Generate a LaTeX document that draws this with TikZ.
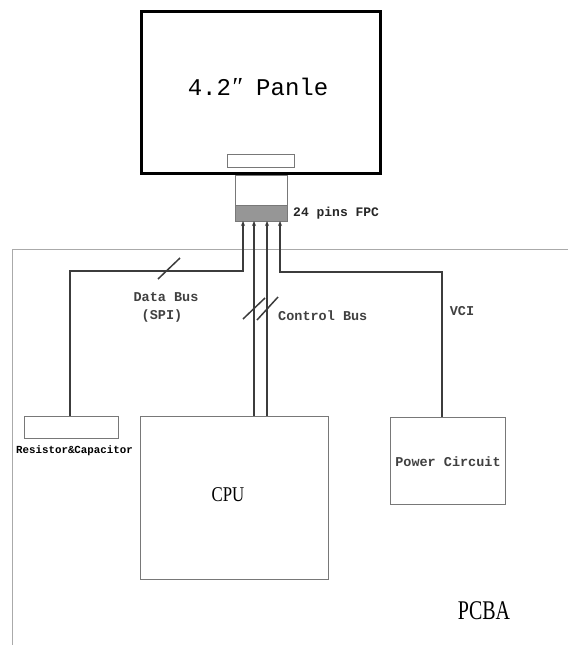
\documentclass[tikz,border=0pt]{standalone}
\usepackage{fontspec}
\setmainfont{Liberation Serif}
\newfontfamily\monofont{Liberation Mono}
\usetikzlibrary{arrows.meta}
\definecolor{wire}{RGB}{60,60,60}
\definecolor{boxline}{RGB}{120,120,120}
\definecolor{pcbline}{RGB}{170,170,170}
\definecolor{fpcgray}{RGB}{150,150,150}
\begin{document}
\begin{tikzpicture}[x=1pt,y=-1pt,
  boxstyle/.style={draw=boxline,line width=0.9pt,fill=white,inner sep=0pt},
  wirestyle/.style={draw=wire,line width=1.5pt},
  arrowwire/.style={wirestyle,-{Stealth[length=5pt,width=4pt]}},
  slashstyle/.style={draw=wire,line width=1.5pt},
  lbl/.style={font=\monofont\bfseries\fontsize{13.5}{14}\selectfont,inner sep=0pt,text=black!75},
]
\useasboundingbox (0,0) rectangle (568,645);
% PCBA outline
\coordinate (pcbtl) at (12,249);
\coordinate (pcbtr) at (568,249);
\coordinate (pcbbl) at (12,645);
\draw[pcbline,line width=1pt] (pcbtr) -- (pcbtl) -- (pcbbl);
% Panel
\node[draw=black,line width=3pt,minimum width=239pt,minimum height=162pt,inner sep=0pt] (panel) at (261,92.5) {};
\node[font=\monofont\fontsize{24}{26}\selectfont,inner sep=0pt] (paneltext) at (258,87) {4.2{\rmfamily\itshape\fontsize{26}{26}\selectfont″} Panle};
\node[boxstyle,minimum width=67pt,minimum height=13pt] (conn) at (260.5,160.5) {};
% FPC
\node[boxstyle,minimum width=52pt,minimum height=30pt] (fpc) at (261,190) {};
\node[draw=boxline,line width=0.9pt,fill=fpcgray,minimum width=52pt,minimum height=16pt,inner sep=0pt] (fpcg) at (261,213) {};
\node[lbl,text=black!85,font=\monofont\bfseries\fontsize{13}{14}\selectfont,anchor=west] (fpclbl) at (293,213) {24 pins FPC};
\coordinate (p1) at (243,221);
\coordinate (p2) at (254,221);
\coordinate (p3) at (267,221);
\coordinate (p4) at (280,221);
% Boxes
\node[boxstyle,minimum width=94pt,minimum height=22pt] (res) at (71,427) {};
\node[font=\monofont\bfseries\fontsize{10.8}{12}\selectfont,inner sep=0pt] (reslbl) at (74.5,451) {Resistor\&Capacitor};
\node[boxstyle,minimum width=188pt,minimum height=163pt] (cpu) at (234,497.5) {};
\node[inner sep=0pt,font=\fontsize{21}{22}\selectfont] (cputext) at (228,495) {\scalebox{0.8}[1]{CPU}};
\node[boxstyle,minimum width=115pt,minimum height=87pt] (pwr) at (447.5,460.5) {};
\node[lbl] (pwrtext) at (448,462) {Power Circuit};
\node[inner sep=0pt,font=\fontsize{27}{28}\selectfont] (pcba) at (484,611) {\scalebox{0.74}[1]{PCBA}};
% Wires
\coordinate (dcorner) at (70,271);
\coordinate (dtop) at (243,271);
\coordinate (vcorner) at (442,272);
\coordinate (vtop) at (280,272);
\draw[arrowwire] (res.north -| dcorner) -- (dcorner) -- (dtop) -- (p1);
\draw[arrowwire] (cpu.north -| p2) -- (p2);
\draw[arrowwire] (cpu.north -| p3) -- (p3);
\draw[arrowwire] (pwr.north -| vcorner) -- (vcorner) -- (vtop) -- (p4);
% slashes
\coordinate (s1a) at (158,279); \coordinate (s1b) at (180,258);
\coordinate (s2a) at (243,319); \coordinate (s2b) at (265,298);
\coordinate (s3a) at (257,320); \coordinate (s3b) at (278,297);
\draw[slashstyle] (s1a) -- (s1b);
\draw[slashstyle] (s2a) -- (s2b);
\draw[slashstyle] (s3a) -- (s3b);
% labels
\node[lbl] (dlbl) at (166,297) {Data Bus};
\node[lbl] (spilbl) at (162,316) {(SPI)};
\node[lbl,anchor=west] (clbl) at (278,316) {Control Bus};
\node[lbl] (vcilbl) at (462,311) {VCI};
\end{tikzpicture}
\end{document}
